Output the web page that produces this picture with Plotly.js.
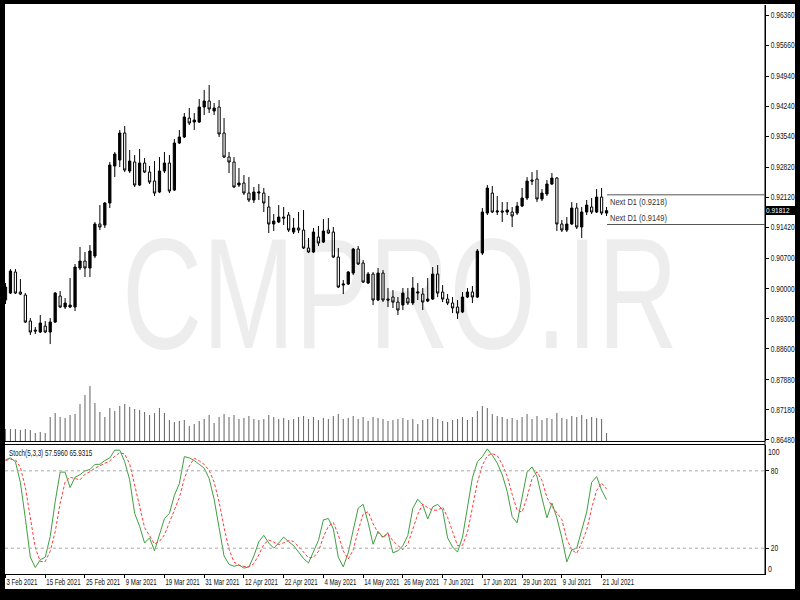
<!DOCTYPE html>
<html>
<head>
<meta charset="utf-8">
<script src="https://cdn.plot.ly/plotly-3.0.1.min.js"></script>
<style>
  html, body { margin: 0; padding: 0; background: #000; width: 800px; height: 600px; overflow: hidden; }
  #chart { position: absolute; left: 5px; top: 4px; width: 790px; height: 585px; background: #fff; }
</style>
</head>
<body>
<div id="chart"></div>
<script>
// ---------------- DATA ----------------
const dates = [
 '2021-02-03','2021-02-04','2021-02-05','2021-02-08','2021-02-09','2021-02-10','2021-02-11','2021-02-12','2021-02-15','2021-02-16',
 '2021-02-17','2021-02-18','2021-02-19','2021-02-22','2021-02-23','2021-02-24','2021-02-25','2021-02-26','2021-03-01','2021-03-02',
 '2021-03-03','2021-03-04','2021-03-05','2021-03-08','2021-03-09','2021-03-10','2021-03-11','2021-03-12','2021-03-15','2021-03-16',
 '2021-03-17','2021-03-18','2021-03-19','2021-03-22','2021-03-23','2021-03-24','2021-03-25','2021-03-26','2021-03-29','2021-03-30',
 '2021-03-31','2021-04-01','2021-04-02','2021-04-05','2021-04-06','2021-04-07','2021-04-08','2021-04-09','2021-04-12','2021-04-13',
 '2021-04-14','2021-04-15','2021-04-16','2021-04-19','2021-04-20','2021-04-21','2021-04-22','2021-04-23','2021-04-26','2021-04-27',
 '2021-04-28','2021-04-29','2021-04-30','2021-05-03','2021-05-04','2021-05-05','2021-05-06','2021-05-07','2021-05-10','2021-05-11',
 '2021-05-12','2021-05-13','2021-05-14','2021-05-17','2021-05-18','2021-05-19','2021-05-20','2021-05-21','2021-05-24','2021-05-25',
 '2021-05-26','2021-05-27','2021-05-28','2021-05-31','2021-06-01','2021-06-02','2021-06-03','2021-06-04','2021-06-07','2021-06-08',
 '2021-06-09','2021-06-10','2021-06-11','2021-06-14','2021-06-15','2021-06-16','2021-06-17','2021-06-18','2021-06-21','2021-06-22',
 '2021-06-23','2021-06-24','2021-06-25','2021-06-28','2021-06-29','2021-06-30','2021-07-01','2021-07-02','2021-07-05','2021-07-06',
 '2021-07-07','2021-07-08','2021-07-09','2021-07-12','2021-07-13','2021-07-14','2021-07-15','2021-07-16','2021-07-19','2021-07-20',
 '2021-07-21','2021-07-22'];

const open = [
 0.89734,0.89896,0.90385,0.89920,0.89850,0.89245,0.89036,0.88990,0.89129,0.88990,
 0.89222,0.89827,0.89571,0.89571,0.89571,0.90478,0.90640,0.90478,0.90757,0.91501,
 0.91477,0.91989,0.92849,0.92989,0.93617,0.92733,0.92942,0.92407,0.92919,0.92709,
 0.92500,0.92245,0.92733,0.92919,0.92291,0.93384,0.93524,0.93965,0.93872,0.93872,
 0.94221,0.94361,0.94128,0.94221,0.93617,0.93058,0.92942,0.92407,0.92454,0.92221,
 0.92059,0.92221,0.92221,0.91896,0.91501,0.91547,0.91663,0.91710,0.91315,0.91408,
 0.91361,0.90943,0.90850,0.91198,0.91082,0.91361,0.91315,0.90733,0.90082,0.90106,
 0.90361,0.90919,0.90594,0.90129,0.90338,0.89734,0.90361,0.89757,0.89803,0.89687,
 0.89617,0.89780,0.89664,0.89896,0.89873,0.89710,0.89757,0.90338,0.89920,0.89757,
 0.89664,0.89571,0.89455,0.89803,0.89920,0.89803,0.90826,0.91756,0.92221,0.91780,
 0.91803,0.91780,0.91780,0.91756,0.91919,0.92105,0.92524,0.92547,0.92082,0.92198,
 0.92431,0.92570,0.91501,0.91361,0.91501,0.91873,0.91431,0.91780,0.91896,0.91780,
 0.92128,0.91756];

const high = [
 0.90129,0.90454,0.90454,0.90222,0.89896,0.89315,0.89106,0.89385,0.89245,0.89315,
 0.89920,0.89943,0.89780,0.90245,0.90571,0.90966,0.90850,0.91012,0.91547,0.91942,
 0.92012,0.92942,0.93175,0.93686,0.93779,0.93221,0.93105,0.93245,0.93035,0.92849,
 0.92965,0.93058,0.93175,0.93105,0.93477,0.93686,0.94082,0.94198,0.94082,0.94407,
 0.94616,0.94733,0.94314,0.94384,0.93965,0.93175,0.93058,0.92803,0.92640,0.92593,
 0.92361,0.92431,0.92338,0.92152,0.91733,0.91942,0.91896,0.91780,0.91640,0.91780,
 0.91826,0.91175,0.91408,0.91454,0.91617,0.91640,0.91431,0.90943,0.90199,0.90408,
 0.90943,0.90989,0.90664,0.90385,0.90385,0.90478,0.90431,0.90013,0.89966,0.89803,
 0.90013,0.90013,0.90268,0.90129,0.90013,0.90245,0.90501,0.90547,0.90082,0.89873,
 0.89803,0.89734,0.89920,0.90013,0.90059,0.90919,0.91873,0.92407,0.92384,0.92152,
 0.92012,0.92012,0.91896,0.92012,0.92338,0.92593,0.92709,0.92756,0.92314,0.92524,
 0.92686,0.92593,0.91594,0.91663,0.92012,0.91989,0.91896,0.92059,0.92105,0.92314,
 0.92338,0.91896];

const low = [
 0.89641,0.89873,0.89873,0.89850,0.89199,0.88920,0.88943,0.88966,0.88966,0.88710,
 0.89199,0.89548,0.89524,0.89548,0.89478,0.90431,0.90268,0.90268,0.90710,0.91361,
 0.91408,0.91873,0.92593,0.92826,0.92709,0.92686,0.92361,0.92384,0.92686,0.92431,
 0.92152,0.92221,0.92686,0.92221,0.92268,0.93361,0.93500,0.93803,0.93686,0.93849,
 0.94035,0.94082,0.94035,0.93524,0.93035,0.92686,0.92338,0.92361,0.92175,0.92012,
 0.91989,0.92059,0.91780,0.91291,0.91338,0.91524,0.91477,0.91315,0.91268,0.91291,
 0.90919,0.90826,0.90826,0.90989,0.91059,0.91268,0.90710,0.90013,0.89873,0.90082,
 0.90315,0.90547,0.90129,0.90106,0.89617,0.89710,0.89687,0.89571,0.89548,0.89385,
 0.89501,0.89617,0.89617,0.89734,0.89501,0.89687,0.89734,0.89803,0.89687,0.89617,
 0.89431,0.89292,0.89431,0.89780,0.89664,0.89780,0.90780,0.91710,0.91756,0.91710,
 0.91547,0.91710,0.91431,0.91710,0.91896,0.92059,0.92407,0.92012,0.92035,0.92152,
 0.92407,0.91338,0.91315,0.91315,0.91477,0.91384,0.91175,0.91710,0.91733,0.91756,
 0.91710,0.91687];

const close = [
 0.90036,0.90408,0.89896,0.89873,0.89222,0.88990,0.89013,0.89199,0.88990,0.89222,
 0.89896,0.89571,0.89664,0.89617,0.90501,0.90640,0.90478,0.90873,0.91501,0.91431,
 0.91989,0.92872,0.93128,0.93617,0.92756,0.92965,0.92407,0.92919,0.92709,0.92477,
 0.92221,0.92733,0.92919,0.92268,0.93384,0.93524,0.93989,0.93849,0.93919,0.94221,
 0.94361,0.94175,0.94198,0.93594,0.93058,0.92942,0.92361,0.92454,0.92221,0.92059,
 0.92245,0.92245,0.91989,0.91501,0.91570,0.91663,0.91640,0.91361,0.91408,0.91361,
 0.90943,0.90850,0.91315,0.91059,0.91338,0.91291,0.90733,0.90036,0.90106,0.90385,
 0.90919,0.90571,0.90152,0.90338,0.89734,0.90361,0.89734,0.89734,0.89687,0.89501,
 0.89896,0.89664,0.90013,0.89920,0.89687,0.89757,0.90338,0.89896,0.89757,0.89664,
 0.89548,0.89431,0.89803,0.89920,0.89803,0.90873,0.91780,0.92338,0.91780,0.91803,
 0.91780,0.91826,0.91687,0.91919,0.92105,0.92500,0.92500,0.92082,0.92221,0.92431,
 0.92570,0.91501,0.91361,0.91501,0.91873,0.91431,0.91780,0.91942,0.91780,0.92128,
 0.91756,0.91812];

// tick volume, thousands
const volumeK = [
 12,12,12,11,12,11,8,9,8,24,
 28,24,23,26,27,37,46,55,38,29,
 24,33,30,35,37,34,32,31,29,26,
 28,33,28,21,19,20,21,15,17,20,
 22,26,18,24,27,24,26,22,23,25,
 22,21,22,26,24,22,23,21,22,24,
 25,22,24,21,23,22,25,27,22,23,
 25,22,24,20,24,23,22,20,21,22,
 23,21,22,17,21,22,24,22,20,19,
 21,22,24,21,24,30,35,33,27,25,
 24,22,23,21,24,27,22,25,21,23,
 22,28,23,22,25,24,26,22,24,23,
 22,8];

const stochK = [
 88.5,90,87,71,43,13,5,11,13,29,
 56,79,79,67,75,77,80,81,85,85,
 88,90,96,96,87,73,47,37,24,28,
 18,30,43,47,61,70,91,90,88,85,
 82,74,58,36,14,7.5,6,7,4.6,5.5,
 14,25,30,24,20,24,28.6,25,22,17,
 12,8.6,18,26,42,43,35,13,5.5,16.4,
 34,51,54,40,23,33,28.6,32,16.4,18,
 22,30,51,58,53.6,42.6,52,54,49.7,28,
 21,17,28.6,51,74.6,87,91,97,92,86,
 77,64,44.5,39.6,60,79,83,75.5,59,43.5,
 55,43.5,28,9.4,18.7,20,34,48,71,75.5,
 65,57.6];

const stochD = [
 88,89,88.5,82.7,67,42.3,20.3,9.7,9.7,17.7,
 32.7,54.7,71.3,75,73.7,73,77.3,79.3,82,83.7,
 86,87.7,91.3,94,93,85.3,69,52.3,36,29.7,
 23.3,25.3,30.3,40,50.3,59.3,74,83.7,89.7,87.7,
 85,80.3,71.3,56,36,19.2,9.2,6.8,5.9,5.7,
 8,14.8,23,26.3,24.7,22.7,24.2,25.9,25.2,21.3,
 17,12.5,12.9,17.5,28.7,37,40,30.3,17.8,11.6,
 18.6,33.8,46.3,48.3,39,32,28.2,31.2,25.7,22.1,
 18.8,23.3,34.3,46.3,54.2,51.4,49.4,49.5,51.9,43.9,
 32.9,22,22.2,32.2,51.4,70.9,84.2,91.7,93.3,91.7,
 85,75.7,61.8,49.4,48,59.5,74,79.2,72.5,59.3,
 52.5,47.3,42.2,27,18.7,16,24.2,34,51,64.8,
 70.5,65.93];

const priceTicks = [0.96360,0.95660,0.94940,0.94240,0.93540,0.92820,0.92120,0.91420,0.90700,0.90000,0.89300,0.88600,0.87880,0.87180,0.86480];
const dateTicks = ['2021-02-03','2021-02-15','2021-02-25','2021-03-09','2021-03-19','2021-03-31','2021-04-12','2021-04-22','2021-05-04','2021-05-14','2021-05-26','2021-06-07','2021-06-17','2021-06-29','2021-07-09','2021-07-21'];
const dateTickText = ['3 Feb 2021','15 Feb 2021','25 Feb 2021','9 Mar 2021','19 Mar 2021','31 Mar 2021','12 Apr 2021','22 Apr 2021','4 May 2021','14 May 2021','26 May 2021','7 Jun 2021','17 Jun 2021','29 Jun 2021','9 Jul 2021','21 Jul 2021'];
const stochLevels = [80, 20];
const nextD1 = [0.9218, 0.9149];
const lastPrice = 0.91812;
const stochTitle = 'Stoch(5,3,3) 57.5960 65.9315';
const watermark = 'CMPRO.IR';

// ---------------- CHART ----------------
const F = '"Liberation Sans", Arial, sans-serif';
const xRange = [-0.1, 152.9];
const lastIdx = dates.length - 1;

const traces = [
  { type: 'bar', x: dates, y: volumeK, yaxis: 'y3', width: 0.22,
    marker: { color: '#6f6f6f', line: { width: 0 } }, hoverinfo: 'skip' },
  { type: 'candlestick', x: dates, open: open, high: high, low: low, close: close,
    yaxis: 'y', whiskerwidth: 0,
    increasing: { line: { color: '#000', width: 1 }, fillcolor: '#000' },
    decreasing: { line: { color: '#000', width: 1 }, fillcolor: '#fff' },
    hoverinfo: 'skip' },
  { type: 'scatter', mode: 'lines', x: dates, y: stochK, yaxis: 'y2',
    line: { color: '#3f9f3f', width: 1 }, hoverinfo: 'skip' },
  { type: 'scatter', mode: 'lines', x: dates, y: stochD, yaxis: 'y2',
    line: { color: '#ff3b3b', width: 1, dash: '3px,2px' }, hoverinfo: 'skip' }
];

const shapes = [];
stochLevels.forEach(v => shapes.push({ type: 'line', xref: 'paper', x0: 0, x1: 1, yref: 'y2', y0: v, y1: v,
  line: { color: '#a8a8a8', width: 1, dash: 'dot' } }));
[0.2329, 0.2276].forEach(py => shapes.push({ type: 'line', xref: 'paper', x0: 0, x1: 1, yref: 'paper', y0: py, y1: py,
  line: { color: '#000', width: 1 } }));
shapes.push({ type: 'line', xref: 'paper', x0: 1, x1: 1, yref: 'paper', y0: 0, y1: 1, line: { color: '#000', width: 1 } });
nextD1.forEach(v => shapes.push({ type: 'line', xref: 'x', x0: lastIdx + 0.1, x1: xRange[1], yref: 'y', y0: v, y1: v,
  line: { color: '#555', width: 1 } }));

const annotations = [
  { text: watermark, xref: 'paper', yref: 'paper', x: 0.52, y: 0.493, showarrow: false,
    font: { family: F, size: 158, color: 'rgba(0,0,0,0.07)' }, xanchor: 'center', yanchor: 'middle' },
  { text: 'Next D1 (' + nextD1[0].toFixed(4) + ')', xref: 'x', yref: 'y', x: lastIdx + 0.6, y: nextD1[0], yshift: -7.5,
    showarrow: false, xanchor: 'left', yanchor: 'middle', align: 'left', borderpad: 0, borderwidth: 0,
    font: { family: F, size: 8.5, color: '#333' } },
  { text: 'Next D1 (' + nextD1[1].toFixed(4) + ')', xref: 'x', yref: 'y', x: lastIdx + 0.6, y: nextD1[1], yshift: 7,
    showarrow: false, xanchor: 'left', yanchor: 'middle', align: 'left', borderpad: 0, borderwidth: 0,
    font: { family: F, size: 8.5, color: '#333' } },
  { text: lastPrice.toFixed(5), xref: 'paper', yref: 'y', x: 1, y: lastPrice, xanchor: 'left', xshift: 1, align: 'left',
    showarrow: false, bgcolor: '#000', borderpad: 0, borderwidth: 0, font: { family: F, size: 8, color: '#fff' } },
  { text: stochTitle, xref: 'paper', yref: 'paper', x: 0.003, y: 0.2127, xanchor: 'left', yanchor: 'middle', align: 'left',
    showarrow: false, font: { family: F, size: 8.5, color: '#111' } },
  { text: '100', xref: 'paper', yref: 'y2', x: 1, y: 94.6, xanchor: 'left', xshift: 2, align: 'left', showarrow: false,
    borderpad: 0, font: { family: F, size: 8.5, color: '#111' } },
  { text: '0', xref: 'paper', yref: 'y2', x: 1, y: 3.9, xanchor: 'left', xshift: 2, align: 'left', showarrow: false,
    borderpad: 0, font: { family: F, size: 8.5, color: '#111' } }
];

const layout = {
  width: 790, height: 585,
  margin: { l: 0, r: 30, t: 1, b: 15 },
  paper_bgcolor: '#fff', plot_bgcolor: '#fff',
  showlegend: false, hovermode: false,
  boxgap: 0.35,
  font: { family: F, size: 8, color: '#111' },
  xaxis: {
    type: 'category', categoryorder: 'array', categoryarray: dates,
    range: xRange, anchor: 'y2', rangeslider: { visible: false },
    tickmode: 'array', tickvals: dateTicks, ticktext: dateTickText, tickangle: 0,
    ticks: 'outside', ticklen: 3, tickcolor: '#000', ticklabelposition: 'outside right',
    ticklabeloverflow: 'allow',
    showline: true, linecolor: '#000', linewidth: 1,
    showgrid: false, zeroline: false, tickfont: { family: F, size: 8.5, color: '#111' }
  },
  yaxis: {
    domain: [0.2337, 1], range: [0.86456, 0.96593], side: 'right', anchor: 'x',
    tickmode: 'array', tickvals: priceTicks, tickformat: '.5f',
    ticks: 'outside', ticklen: 3, tickcolor: '#000', ticklabeloverflow: 'allow',
    showline: true, linecolor: '#000', linewidth: 1,
    showgrid: false, zeroline: false, tickfont: { family: F, size: 8.5, color: '#111' }
  },
  yaxis2: {
    domain: [0, 0.2267], range: [0, 100], side: 'right', anchor: 'x',
    tickmode: 'array', tickvals: stochLevels, ticks: 'outside', ticklen: 3, tickcolor: '#000',
    showline: true, linecolor: '#000', linewidth: 1, ticklabeloverflow: 'allow',
    showgrid: false, zeroline: false, tickfont: { family: F, size: 8.5, color: '#111' }
  },
  yaxis3: { overlaying: 'y', range: [0, 436], visible: false, fixedrange: true },
  shapes: shapes,
  annotations: annotations
};

// narrow the text horizontally (the reference uses a condensed-looking face)
function squeeze(nodes, f) {
  nodes.forEach(t => {
    const x = parseFloat(t.getAttribute('x')) || 0;
    const y = parseFloat(t.getAttribute('y')) || 0;
    const prev = t.getAttribute('transform') || '';
    t.setAttribute('transform', (prev + ' translate(' + x + ',' + y + ') scale(' + f + ',1) translate(' + (-x) + ',' + (-y) + ')').trim());
  });
}

Plotly.newPlot('chart', traces, layout, { staticPlot: true, displayModeBar: false }).then(() => {
  const root = document.getElementById('chart');
  squeeze(root.querySelectorAll('.xtick text'), 0.72);
  squeeze(root.querySelectorAll('.ytick text'), 0.78);
  squeeze(root.querySelectorAll('.y2tick text'), 0.78);
  root.querySelectorAll('.annotation-text').forEach(t => {
    const s = t.textContent;
    if (s === watermark) {
      const w = t.getComputedTextLength();
      squeeze([t], w > 0 ? 556 / w : 0.7);
    } else if (s.indexOf('Next D1') === 0) {
      squeeze([t], 0.88);
    } else if (s === stochTitle) {
      squeeze([t], 0.74);
    } else {
      squeeze([t], 0.82);
    }
  });
});
</script>
</body>
</html>
